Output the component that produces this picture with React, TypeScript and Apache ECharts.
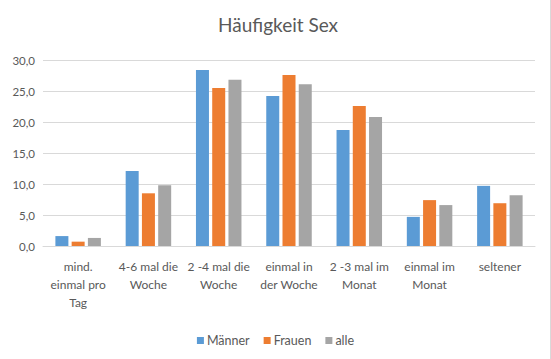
import React, { useEffect, useRef } from "react";
import * as echarts from "echarts";

const categories = [
  "mind.\neinmal pro\nTag",
  "4-6 mal die\nWoche",
  "2 -4 mal die\nWoche",
  "einmal in\nder Woche",
  "2 -3 mal im\nMonat",
  "einmal im\nMonat",
  "seltener",
];
const maenner = [1.6, 12.1, 28.4, 24.2, 18.7, 4.7, 9.7];
const frauen = [0.7, 8.5, 25.5, 27.6, 22.6, 7.4, 6.9];
const alle = [1.3, 9.8, 26.8, 26.1, 20.8, 6.6, 8.2];

const FONT = "Lato, 'Open Sans', sans-serif";

export default function App() {
  const ref = useRef<HTMLDivElement>(null);
  useEffect(() => {
    if (!ref.current) return;
    const chart = echarts.init(ref.current, undefined, { renderer: "svg" });
    const mk = (name: string, data: number[], color: string) => ({
      name,
      type: "bar",
      data,
      barWidth: 13,
      barGap: "25%",
      itemStyle: { color },
    });
    chart.setOption({
      animation: false,
      backgroundColor: "#ffffff",
      textStyle: { fontFamily: FONT },
      title: {
        text: "Häufigkeit Sex",
        left: 273,
        top: 10,
        textAlign: "center",
        textStyle: { fontSize: 19, fontWeight: "normal", color: "#595959", fontFamily: FONT },
      },
      legend: {
        data: ["Männer", "Frauen", "alle"],
        left: "center",
        top: 329,
        icon: "rect",
        itemWidth: 7,
        itemHeight: 7,
        itemGap: 14,
        textStyle: { fontSize: 12.5, color: "#595959", fontFamily: FONT, padding: [0, 0, 0, -2] },
      },
      grid: { left: 43, right: 16, top: 60, bottom: 113, containLabel: false },
      xAxis: {
        type: "category",
        data: categories,
        axisLine: { lineStyle: { color: "#D9D9D9" } },
        axisTick: { show: false },
        axisLabel: {
          interval: 0,
          color: "#595959",
          fontSize: 12,
          lineHeight: 18,
          margin: 11,
          fontFamily: FONT,
        },
      },
      yAxis: {
        type: "value",
        min: 0,
        max: 30,
        interval: 5,
        axisLine: { show: false },
        axisTick: { show: false },
        splitLine: { lineStyle: { color: "#D9D9D9", width: 1 } },
        axisLabel: {
          color: "#595959",
          fontSize: 11.5,
          margin: 8,
          fontFamily: FONT,
          formatter: (v: number) => v.toFixed(1).replace(".", ","),
        },
      },
      graphic: [
        {
          type: "line",
          shape: { x1: 550.5, y1: 0, x2: 550.5, y2: 359 },
          style: { stroke: "#D9D9D9", lineWidth: 1 },
        },
      ],
      series: [
        mk("Männer", maenner, "#5B9BD5"),
        mk("Frauen", frauen, "#ED7D31"),
        mk("alle", alle, "#A5A5A5"),
      ],
    });
    return () => chart.dispose();
  }, []);
  return (
    <div
      ref={ref}
      style={{ position: "fixed", left: 0, top: 0, width: 551, height: 359 }}
    />
  );
}
